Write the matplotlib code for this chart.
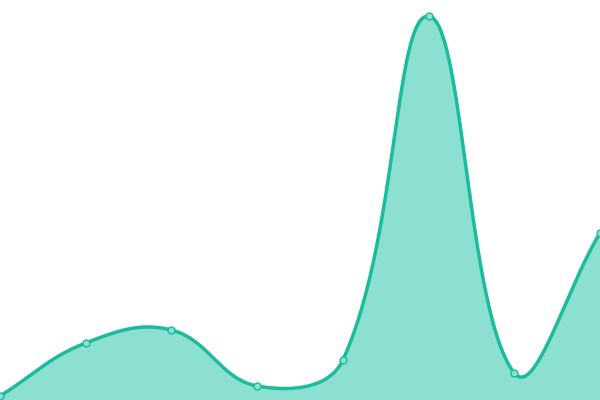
import matplotlib
matplotlib.use('Agg')
import matplotlib.pyplot as plt
import numpy as np

# data (8 evenly spaced points)
x_idx = [0, 1, 2, 3, 4, 5, 6, 7]
values = [4, 57, 70, 14, 40, 384, 27, 167]

line_color = '#1abc9c'
fill_color = '#8ce0d1'

W, H = 600, 400      # plot area in pixels
X_MAX, Y_MAX = 7, 400
TENSION = 0.4


def smooth_curve(xs, ys, n=60):
    """Tension spline through the points, computed in pixel space."""
    sx = W / X_MAX
    sy = H / Y_MAX
    px = np.asarray(xs, float) * sx
    py = np.asarray(ys, float) * sy
    k = len(px)
    cin = np.zeros((k, 2))
    cout = np.zeros((k, 2))
    for i in range(k):
        p1 = np.array([px[i], py[i]])
        p0 = np.array([px[i - 1], py[i - 1]]) if i > 0 else p1
        p2 = np.array([px[i + 1], py[i + 1]]) if i < k - 1 else p1
        d01 = np.hypot(*(p1 - p0))
        d12 = np.hypot(*(p2 - p1))
        tot = d01 + d12
        fa = TENSION * d01 / tot if tot else 0
        fb = TENSION * d12 / tot if tot else 0
        cin[i] = p1 - fa * (p2 - p0)
        cout[i] = p1 + fb * (p2 - p0)
    cin[:, 0] = np.clip(cin[:, 0], 0, W)
    cout[:, 0] = np.clip(cout[:, 0], 0, W)
    cin[:, 1] = np.clip(cin[:, 1], 0, H)
    cout[:, 1] = np.clip(cout[:, 1], 0, H)
    t = np.linspace(0, 1, n, endpoint=False)[:, None]
    pts = []
    for i in range(k - 1):
        a = np.array([px[i], py[i]])
        b = cout[i]
        c = cin[i + 1]
        d = np.array([px[i + 1], py[i + 1]])
        seg = ((1 - t) ** 3) * a + 3 * ((1 - t) ** 2) * t * b + 3 * (1 - t) * t ** 2 * c + t ** 3 * d
        pts.append(seg)
    pts.append(np.array([[px[-1], py[-1]]]))
    pts = np.vstack(pts)
    return pts[:, 0] / sx, pts[:, 1] / sy


fig = plt.figure(figsize=(6, 4), dpi=100)
ax = fig.add_axes([0, 0, 1, 1])

cx, cy = smooth_curve(x_idx, values)
ax.fill_between(cx, cy, 0, color=fill_color, linewidth=0, zorder=1)
ax.plot(cx, cy, color=line_color, linewidth=2.5, zorder=2, solid_capstyle='round')
ax.plot(x_idx, values, 'o', markersize=5, markerfacecolor=fill_color,
        markeredgecolor=line_color, markeredgewidth=1, zorder=3, clip_on=False)

ax.set_xlim(0, X_MAX)
ax.set_ylim(0, Y_MAX)
ax.axis('off')

plt.savefig('out.png', dpi=100)
